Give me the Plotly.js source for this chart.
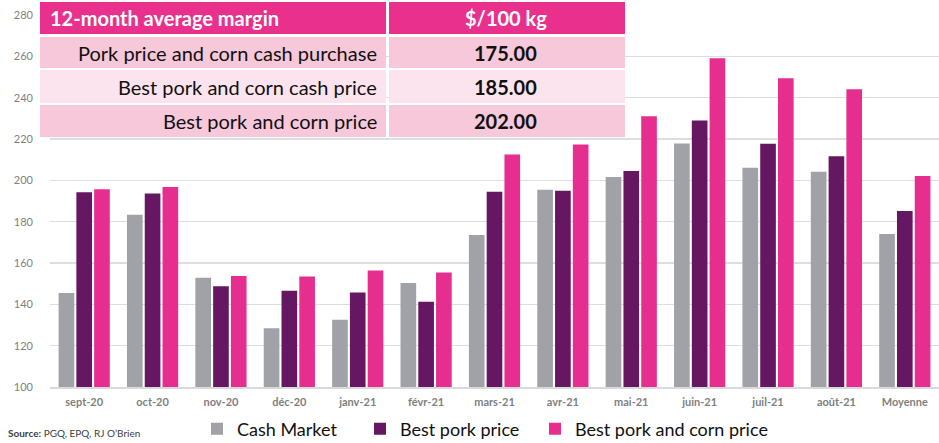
<!DOCTYPE html>
<html><head><meta charset="utf-8">
<script src="https://cdn.plot.ly/plotly-3.0.1.min.js"></script>
<style>html,body{margin:0;padding:0;background:#fff}#c{width:939px;height:443px}</style>
</head><body><div id="c"></div>
<script>
const categories = ['sept-20','oct-20','nov-20','déc-20','janv-21','févr-21','mars-21','avr-21','mai-21','juin-21','juil-21','août-21','Moyenne'];
const cashMarket = [145.5,183.3,152.9,128.4,132.5,150.3,173.6,195.5,201.6,217.8,206.1,204.2,174.0];
const bestPork = [194.2,193.6,148.7,146.6,145.7,141.3,194.5,195.0,204.5,228.9,217.7,211.7,185.2];
const bestPorkCorn = [195.7,196.8,153.7,153.5,156.4,155.4,212.5,217.3,231.0,259.1,249.4,244.1,202.1];
const seriesNames = ['Cash Market','Best pork price','Best pork and corn price'];
const tableHeader = ['12-month average margin','$/100 kg'];
const tableLabels = ['Pork price and corn cash purchase','Best pork and corn cash price','Best pork and corn price'];
const tableValues = ['175.00','185.00','202.00'];
const yTicks = [100,120,140,160,180,200,220,240,260,280];
const sourceText = '<b>Source:</b> PGQ, EPQ, RJ O\u2019Brien';

const colors = ['#a0a2a8','#651761','#e62e8f'];
const FONT = 'Lato, "Noto Sans", sans-serif';
const legendIds = ['legend','legend2','legend3'];

const traces = [cashMarket,bestPork,bestPorkCorn].map((v,i)=>({
  type:'bar', x:categories, y:v, name:seriesNames[i],
  marker:{color:colors[i]}, legend:legendIds[i], hoverinfo:'x+y'
}));

const L=50, R=939, T=15, B=387;
const W=R-L, H=B-T;
const px=x=>(x-L)/W, py=y=>(B-y)/H;

const shapes=[], annotations=[];
const rowFills=['#f6c8d9','#fbe4ed','#f6c8d9'];
const c1=[40,386], c2=[389,625];
shapes.push({type:'rect',xref:'paper',yref:'paper',x0:px(c1[0]),x1:px(c1[1]),y0:py(34),y1:py(2),fillcolor:'#e8308c',line:{width:0},layer:'above'});
shapes.push({type:'rect',xref:'paper',yref:'paper',x0:px(c2[0]),x1:px(c2[1]),y0:py(34),y1:py(2),fillcolor:'#e8308c',line:{width:0},layer:'above'});
annotations.push({xref:'paper',yref:'paper',x:px(48),y:py(18),xanchor:'left',yanchor:'middle',text:'<b>'+tableHeader[0]+'</b>',showarrow:false,font:{family:FONT,size:20,color:'#ffffff'}});
annotations.push({xref:'paper',yref:'paper',x:px(506),y:py(18),xanchor:'center',yanchor:'middle',text:'<b>'+tableHeader[1]+'</b>',showarrow:false,font:{family:FONT,size:20,color:'#ffffff'}});
const rowTop=[37,70,105], rowBot=[68,103,137];
tableLabels.forEach((lab,i)=>{
  shapes.push({type:'rect',xref:'paper',yref:'paper',x0:px(c1[0]),x1:px(c1[1]),y0:py(rowBot[i]),y1:py(rowTop[i]),fillcolor:rowFills[i],line:{width:0},layer:'above'});
  shapes.push({type:'rect',xref:'paper',yref:'paper',x0:px(c2[0]),x1:px(c2[1]),y0:py(rowBot[i]),y1:py(rowTop[i]),fillcolor:rowFills[i],line:{width:0},layer:'above'});
  const cy=(rowTop[i]+rowBot[i])/2;
  annotations.push({xref:'paper',yref:'paper',x:px(379),y:py(cy),xanchor:'right',yanchor:'middle',text:lab,showarrow:false,font:{family:FONT,size:20,color:'#111111'}});
  annotations.push({xref:'paper',yref:'paper',x:px(506),y:py(cy),xanchor:'center',yanchor:'middle',text:'<b>'+tableValues[i]+'</b>',showarrow:false,font:{family:FONT,size:20,color:'#111111'}});
});
annotations.push({xref:'paper',yref:'paper',x:px(6),y:py(433),xanchor:'left',yanchor:'middle',text:sourceText,showarrow:false,font:{family:FONT,size:10,color:'#404040'}});

const legendBase={orientation:'h',xanchor:'left',y:py(429),yanchor:'middle',
  font:{family:FONT,size:18,color:'#111111'},bgcolor:'rgba(0,0,0,0)'};
const legendX=[197,360,535];

const layout={
  width:939,height:443,
  margin:{l:L,r:939-R,t:T,b:443-B,autoexpand:false},
  paper_bgcolor:'#ffffff',plot_bgcolor:'#ffffff',
  barmode:'group',bargap:0.22,bargroupgap:0.12,
  font:{family:FONT},
  xaxis:{type:'category',showgrid:false,zeroline:false,showline:true,linecolor:'#d9d9d9',linewidth:1.5,
    ticks:'',tickfont:{family:FONT,size:11,color:'#7f7f7f',weight:'bold'},ticklabelstandoff:4},
  yaxis:{range:[100,280],tickvals:yTicks,showgrid:true,gridcolor:'#dedede',gridwidth:1.5,zeroline:false,
    ticks:'',tickfont:{family:FONT,size:11,color:'#7f7f7f'},ticklabelstandoff:16},
  showlegend:true,
  legend:Object.assign({},legendBase,{x:px(legendX[0])}),
  legend2:Object.assign({},legendBase,{x:px(legendX[1])}),
  legend3:Object.assign({},legendBase,{x:px(legendX[2])}),
  shapes:shapes,annotations:annotations
};
Plotly.newPlot('c',traces,layout,{displayModeBar:false,staticPlot:true});
</script></body></html>
